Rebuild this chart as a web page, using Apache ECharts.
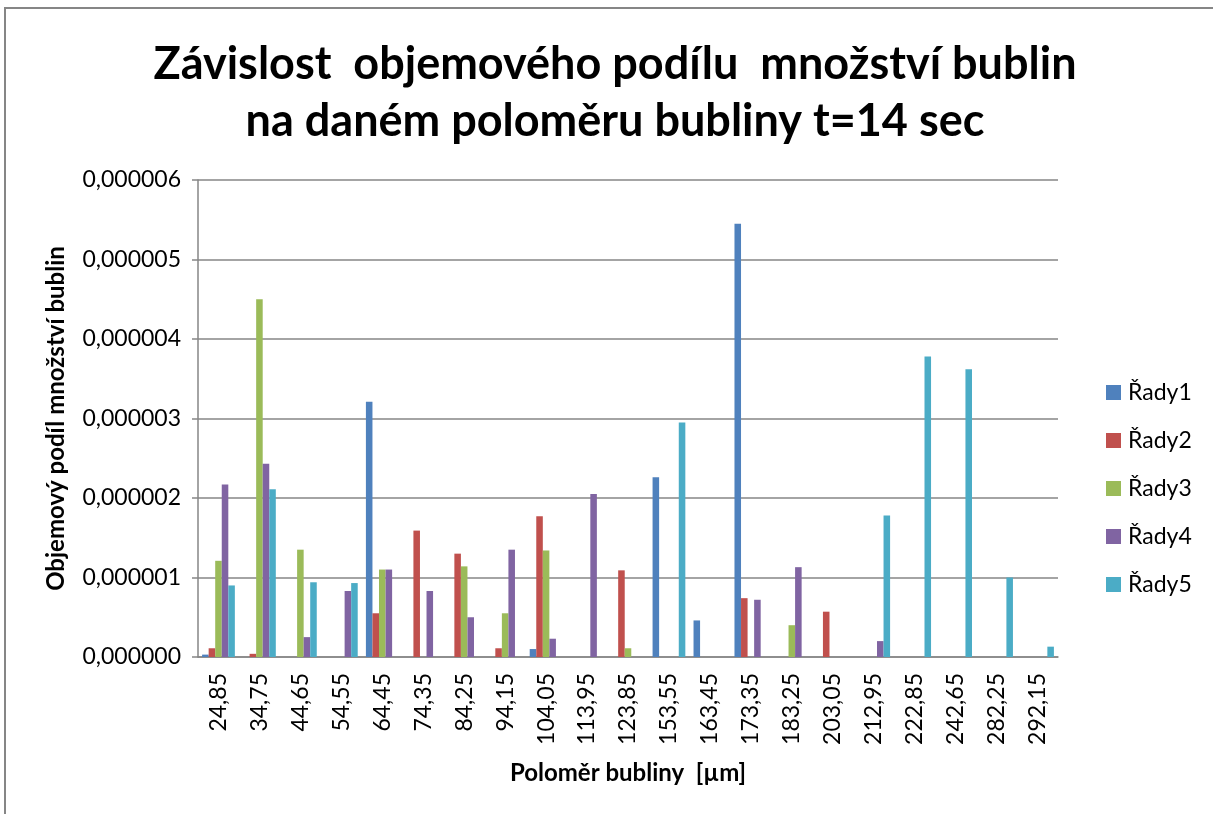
<!DOCTYPE html>
<html>
<head>
<meta charset="utf-8">
<title>Závislost objemového podílu množství bublin</title>
<script src="https://cdn.jsdelivr.net/npm/echarts@6/dist/echarts.min.js"></script>
<style>
  html, body { margin: 0; padding: 0; background: #fff; }
  #chart { width: 1213px; height: 814px; }
</style>
</head>
<body>
<div id="chart"></div>
<script>
// polomer bubliny [um]
const categories = ['24,85', '34,75', '44,65', '54,55', '64,45', '74,35', '84,25', '94,15', '104,05', '113,95',
  '123,85', '153,55', '163,45', '173,35', '183,25', '203,05', '212,95', '222,85', '242,65', '282,25', '292,15']

const rady1 = [0.03e-6, 0, 0, 0, 3.21e-6, 0, 0, 0, 0.10e-6, 0, 0, 2.26e-6, 0.46e-6, 5.45e-6, 0, 0, 0, 0, 0, 0, 0]
const rady2 = [0.11e-6, 0.04e-6, 0, 0, 0.55e-6, 1.59e-6, 1.30e-6, 0.11e-6, 1.77e-6, 0, 1.09e-6, 0, 0, 0.74e-6, 0, 0.57e-6, 0, 0, 0, 0, 0]
const rady3 = [1.21e-6, 4.50e-6, 1.35e-6, 0, 1.10e-6, 0, 1.14e-6, 0.55e-6, 1.34e-6, 0, 0.11e-6, 0, 0, 0, 0.40e-6, 0, 0, 0, 0, 0, 0]
const rady4 = [2.17e-6, 2.43e-6, 0.25e-6, 0.83e-6, 1.10e-6, 0.83e-6, 0.50e-6, 1.35e-6, 0.23e-6, 2.05e-6, 0, 0, 0, 0.72e-6, 1.13e-6, 0, 0.20e-6, 0, 0, 0, 0]
const rady5 = [0.90e-6, 2.11e-6, 0.94e-6, 0.93e-6, 0, 0, 0, 0, 0, 0, 0, 2.95e-6, 0, 0, 0, 0, 1.78e-6, 3.78e-6, 3.62e-6, 1.00e-6, 0.13e-6]

const seriesNames = ['Řady1', 'Řady2', 'Řady3', 'Řady4', 'Řady5']
const seriesData = [rady1, rady2, rady3, rady4, rady5]
const colors = ['#4F81BD', '#C0504D', '#9BBB59', '#8064A2', '#4BACC6']

const FONT = 'Lato, "Open Sans", sans-serif'
const GRID_COLOR = '#868686'

const chart = echarts.init(document.getElementById('chart'))
const option = {
  animation: false,
  color: colors,
  textStyle: { fontFamily: FONT },
  title: {
    text: 'Závislost  objemového podílu  množství bublin\nna daném poloměru bubliny t=14 sec',
    left: 610,
    top: 31,
    textAlign: 'center',
    textStyle: {
      fontFamily: FONT,
      fontSize: 45,
      fontWeight: 'bold',
      color: '#000',
      lineHeight: 57
    }
  },
  graphic: [
    {
      // outer chart frame (only top and left edge are visible)
      type: 'rect',
      shape: { x: 5, y: 8, width: 1400, height: 1000 },
      style: { fill: 'none', stroke: GRID_COLOR, lineWidth: 2 },
      silent: true
    }
  ],
  legend: {
    orient: 'vertical',
    left: 1101,
    top: 376,
    itemWidth: 15,
    itemHeight: 15,
    itemGap: 25,
    icon: 'rect',
    data: seriesNames,
    textStyle: {
      fontFamily: FONT,
      fontSize: 23,
      lineHeight: 23,
      color: '#000',
      padding: [0, 0, 0, 2]
    }
  },
  grid: {
    left: 198,
    right: 155,
    top: 180,
    bottom: 157
  },
  xAxis: {
    type: 'category',
    data: categories,
    name: 'Poloměr bubliny  [µm]',
    nameLocation: 'middle',
    nameGap: 104,
    nameTextStyle: {
      fontFamily: FONT,
      fontSize: 24,
      fontWeight: 'bold',
      color: '#000'
    },
    axisLine: { lineStyle: { color: GRID_COLOR, width: 1.5 } },
    axisTick: { show: false },
    axisLabel: {
      rotate: 90,
      margin: 16,
      interval: 0,
      fontFamily: FONT,
      fontSize: 23,
      color: '#000'
    }
  },
  yAxis: {
    type: 'value',
    min: 0,
    max: 6e-6,
    interval: 1e-6,
    name: 'Objemový podíl množství bublin',
    nameLocation: 'middle',
    nameGap: 130,
    nameRotate: 90,
    nameTextStyle: {
      fontFamily: FONT,
      fontSize: 24,
      fontWeight: 'bold',
      color: '#000'
    },
    axisLine: { show: true, lineStyle: { color: GRID_COLOR, width: 1.5 } },
    axisTick: { show: true, length: 6, lineStyle: { color: GRID_COLOR, width: 1.5 } },
    axisLabel: {
      margin: 17,
      fontFamily: FONT,
      fontSize: 23,
      color: '#000',
      formatter: function(v) {
        return v.toFixed(6).replace('.', ',')
      }
    },
    splitLine: { lineStyle: { color: GRID_COLOR, width: 1.5 } }
  },
  series: seriesNames.map(function(name, i) {
    return {
      name: name,
      type: 'bar',
      data: seriesData[i],
      barGap: '0%',
      barCategoryGap: '20%',
      itemStyle: { color: colors[i] }
    }
  })
}
chart.setOption(option)
window.onresize = function() {
  chart.resize()
}
</script>
</body>
</html>
